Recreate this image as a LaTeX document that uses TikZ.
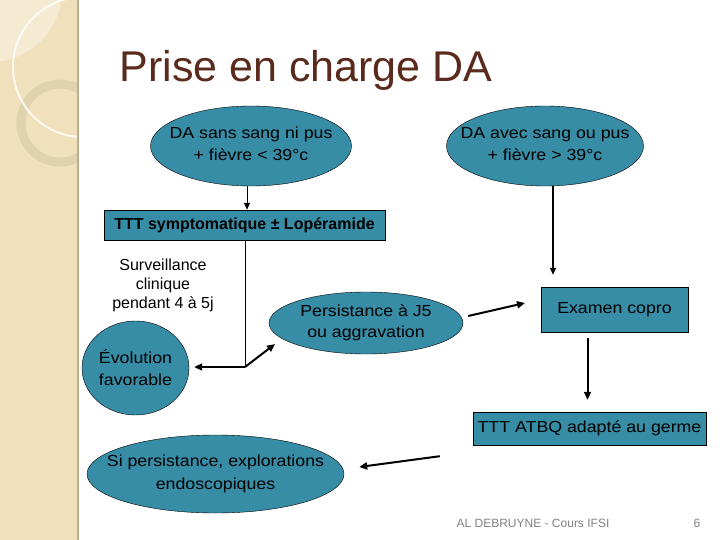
\documentclass[tikz,border=0pt]{standalone}
\usepackage{fontspec}
\setmainfont{Liberation Sans}
\newfontfamily\bubfont[FakeStretch=1.11]{Liberation Sans}
\usetikzlibrary{arrows.meta, positioning, shapes.geometric}
\definecolor{tealfill}{RGB}{56, 141, 166}
\definecolor{titlebrown}{RGB}{90, 42, 28}
\definecolor{stripbeige}{RGB}{240, 225, 188}
\definecolor{stripring}{RGB}{224, 209, 175}
\definecolor{stripedge}{RGB}{190, 174, 140}
\definecolor{footgray}{RGB}{130, 130, 130}

\begin{document}
\begin{tikzpicture}[x=1pt, y=-1pt, font=\fontsize{16}{19}\selectfont,
  bubble/.style={ellipse, draw=black, fill=tealfill, inner sep=0pt},
  bubtext/.style={align=center, font=\bubfont\fontsize{16}{22}\selectfont},
  tttbox/.style={rectangle, draw=black, fill=tealfill, inner sep=0pt, font=\bubfont\fontsize{16}{19}\selectfont},
  arr/.style={-{Triangle[length=7pt, width=6pt]}, line width=1pt},
  thickarr/.style={-{Triangle[length=8pt, width=7pt]}, line width=2pt}]
  \useasboundingbox (0,0) rectangle (720,540);
  \fill[white] (0,0) rectangle (720,540);

  % decorative strip on the left
  \fill[stripbeige] (0,0) rectangle (78,540);
  \begin{scope}
    \clip (0,0) rectangle (78,540);
    \fill[white, opacity=0.35] (-10,-10) circle[radius=72];
    \draw[stripring, line width=9] (60,123) circle[radius=39];
    \draw[white, opacity=0.8, line width=2] (83,67) circle[radius=70];
  \end{scope}
  \draw[stripedge, line width=1.5] (78,0) -- (78,540);

  \node[anchor=west, text=titlebrown, font=\fontsize{43}{48}\selectfont] (title) at (116,70) {Prise en charge DA};

  % the two entry cases
  \node[bubble, minimum width=201, minimum height=80,
    label={[bubtext, yshift=2pt]center:{DA sans sang ni pus\\+ fièvre < 39°c}}] (sans) at (251,146) {};
  \node[bubble, minimum width=197, minimum height=80,
    label={[bubtext, yshift=2pt]center:{DA avec sang ou pus\\+ fièvre > 39°c}}] (avec) at (545,146) {};

  \node[tttbox, minimum width=281, minimum height=30, font=\fontsize{16}{19}\selectfont\bfseries] (ttt) at (244.5,225) {TTT symptomatique ± Lopéramide};
  \node[align=center] (surv) at (163,285) {Surveillance\\clinique\\pendant 4 à 5j};

  \node[bubble, minimum width=107, minimum height=94,
    label={[bubtext]center:{Évolution\\favorable}}] (evol) at (135.5,368) {};
  \node[bubble, minimum width=194, minimum height=62,
    label={[bubtext, font=\bubfont\fontsize{16}{21}\selectfont]center:{Persistance à J5\\ou aggravation}}] (pers) at (366,323) {};

  \node[tttbox, minimum width=147, minimum height=45] (copro) at (614.5,309.5) {Examen copro};
  \node[tttbox, minimum width=233, minimum height=33] (atbq) at (589.5,428.5) {TTT ATBQ adapté au germe};

  \node[bubble, minimum width=257, minimum height=78,
    label={[bubtext, font=\bubfont\fontsize{16}{23}\selectfont]center:{Si persistance, explorations\\endoscopiques}}] (endo) at (215.5,474) {};

  \node[text=footgray, font=\fontsize{12}{14}\selectfont] (auteur) at (533,523) {AL DEBRUYNE - Cours IFSI};
  \node[text=footgray, font=\fontsize{12}{14}\selectfont] (page) at (697,523) {6};

  % connectors
  \coordinate (split) at (245,367);
  \coordinate (perstip) at (275,344);
  \coordinate (coprotip) at (525,303);
  \draw[arr] ([xshift=-4pt]sans.south) -- ([xshift=-4pt]sans.south |- ttt.north);
  \draw[arr, line width=1.5pt, shorten >=12pt] ([xshift=8pt]avec.south) -- ([xshift=8pt]avec.south |- copro.north);
  \draw[line width=1pt] (ttt.south -| split) -- (split);
  \draw[thickarr, shorten >=5pt] (split) -- (evol.east |- split);
  \draw[thickarr] (split) -- (perstip);
  \draw[thickarr] ([xshift=5pt, yshift=7pt]pers.east) -- (coprotip);
  \draw[thickarr, shorten >=12pt] ([xshift=-27pt, yshift=-6pt]copro.south) -- ([xshift=-27pt]copro.south |- atbq.north);
  \draw[thickarr] ([xshift=-33pt, yshift=-11pt]atbq.south west) -- ([xshift=15pt, yshift=7pt]endo.east);
\end{tikzpicture}
\end{document}
